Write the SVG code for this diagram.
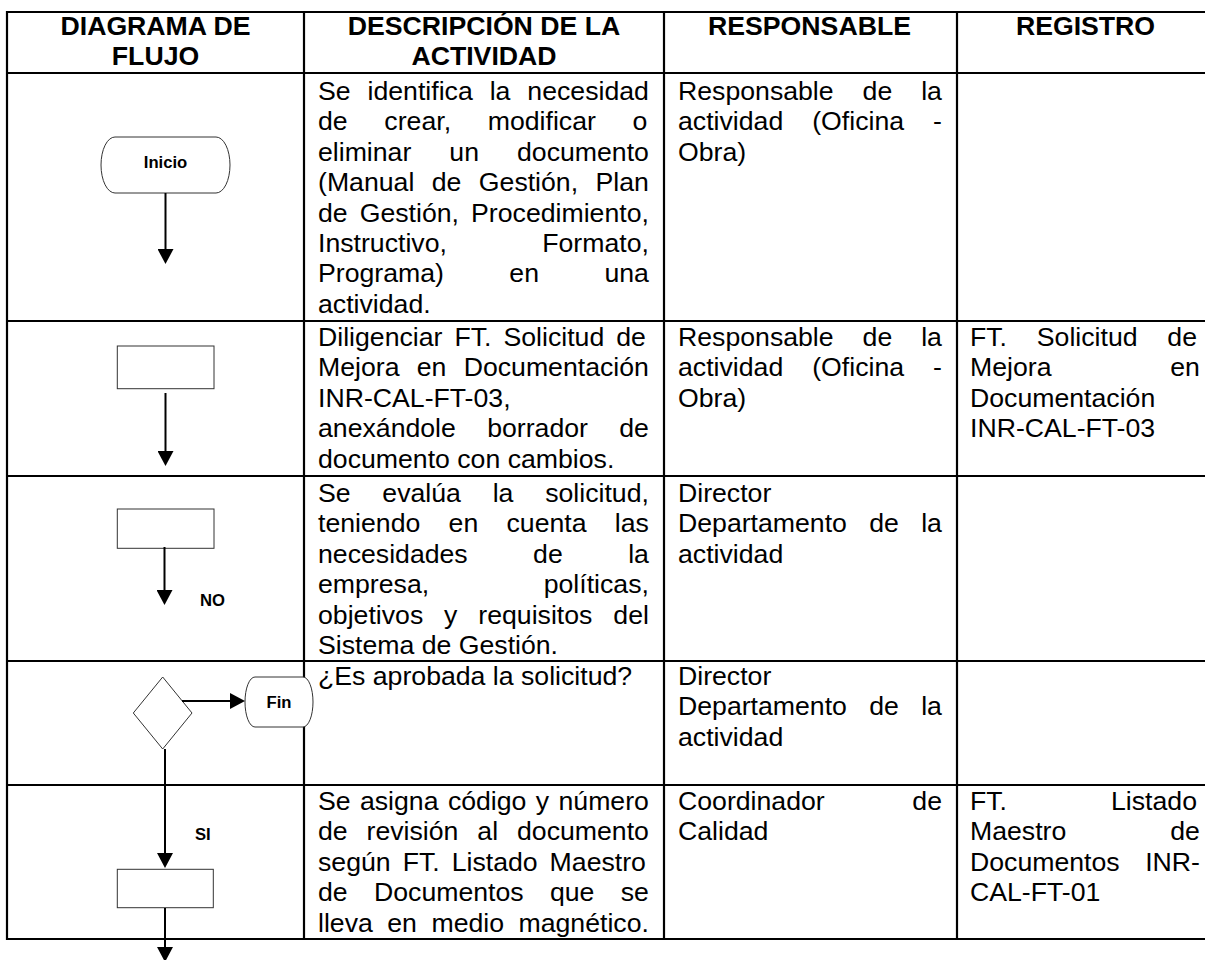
<svg xmlns="http://www.w3.org/2000/svg" width="1205" height="960" viewBox="0 0 1205 960">
<style>
text{font-family:"Liberation Sans",Arial,sans-serif;fill:#000}
.h{font-size:26.67px;font-weight:bold;text-anchor:middle}
.b{font-size:26.67px}
.s{font-size:16.67px;font-weight:bold}
.c{text-anchor:middle}
.grid line{stroke:#000;stroke-width:2.2}
.shape{fill:#fff;stroke:#333;stroke-width:1}
.conn path{stroke:#000;stroke-width:2;fill:none}
</style>
<defs>
<marker id="ah" viewBox="0 0 15 16" refX="0" refY="8" markerWidth="15" markerHeight="16" markerUnits="userSpaceOnUse" orient="auto"><path d="M0,0 L15,8 L0,16 Z" fill="#000"/></marker>
</defs>
<rect width="1205" height="960" fill="#fff"/>
<g id="table" class="grid">
<line x1="7" y1="12" x2="1205" y2="12"/>
<line x1="7" y1="73" x2="1205" y2="73"/>
<line x1="7" y1="321" x2="1205" y2="321"/>
<line x1="7" y1="476" x2="1205" y2="476"/>
<line x1="7" y1="661" x2="1205" y2="661"/>
<line x1="7" y1="785" x2="1205" y2="785"/>
<line x1="7" y1="939" x2="1205" y2="939"/>
<line x1="7" y1="11" x2="7" y2="940"/>
<line x1="304" y1="11" x2="304" y2="940"/>
<line x1="664" y1="11" x2="664" y2="940"/>
<line x1="957" y1="11" x2="957" y2="940"/>
</g>
<g id="headers">
<text class="h" x="155.5" y="35">DIAGRAMA DE</text>
<text class="h" x="155.5" y="65">FLUJO</text>
<text class="h" x="484" y="35">DESCRIPCIÓN DE LA</text>
<text class="h" x="484" y="65">ACTIVIDAD</text>
<text class="h" x="809.5" y="35">RESPONSABLE</text>
<text class="h" x="1085.5" y="35">REGISTRO</text>
</g>
<g id="descripcion" class="b">
<text class="b" x="318" y="100" style="word-spacing:9.53px">Se identifica la necesidad</text>
<text class="b" x="318" y="130.4" style="word-spacing:29.31px">de crear, modificar o</text>
<text class="b" x="318" y="160.8" style="word-spacing:30.62px">eliminar un documento</text>
<text class="b" x="318" y="191.2" style="word-spacing:10.03px">(Manual de Gestión, Plan</text>
<text class="b" x="318" y="221.6" style="word-spacing:4.67px">de Gestión, Procedimiento,</text>
<text class="b" x="318" y="252" style="word-spacing:87.93px">Instructivo, Formato,</text>
<text class="b" x="318" y="282.4" style="word-spacing:58.03px">Programa) en una</text>
<text class="b" x="318" y="312.8">actividad.</text>
<text class="b" x="318" y="346" style="word-spacing:4.61px">Diligenciar FT. Solicitud de</text>
<text class="b" x="318" y="376.4" style="word-spacing:9.87px">Mejora en Documentación</text>
<text class="b" x="318" y="406.8">INR-CAL-FT-03,</text>
<text class="b" x="318" y="437.2" style="word-spacing:23.92px">anexándole borrador de</text>
<text class="b" x="318" y="467.6">documento con cambios.</text>
<text class="b" x="318" y="502" style="word-spacing:24.36px">Se evalúa la solicitud,</text>
<text class="b" x="318" y="532.4" style="word-spacing:20.88px">teniendo en cuenta las</text>
<text class="b" x="318" y="562.8" style="word-spacing:58.02px">necesidades de la</text>
<text class="b" x="318" y="593.2" style="word-spacing:107.19px">empresa, políticas,</text>
<text class="b" x="318" y="623.6" style="word-spacing:13.49px">objetivos y requisitos del</text>
<text class="b" x="318" y="654">Sistema de Gestión.</text>
<text class="b" x="318" y="685">¿Es aprobada la solicitud?</text>
<text class="b" x="318" y="810" style="word-spacing:1.96px">Se asigna código y número</text>
<text class="b" x="318" y="840.4" style="word-spacing:11.51px">de revisión al documento</text>
<text class="b" x="318" y="870.8" style="word-spacing:4.6px">según FT. Listado Maestro</text>
<text class="b" x="318" y="901.2" style="word-spacing:18.92px">de Documentos que se</text>
<text class="b" x="318" y="931.6" style="word-spacing:7.07px">lleva en medio magnético.</text>
</g>
<g id="responsable">
<text class="b" x="678" y="100" style="word-spacing:21.56px">Responsable de la</text>
<text class="b" x="678" y="130.4" style="word-spacing:21.59px">actividad (Oficina -</text>
<text class="b" x="678" y="160.8">Obra)</text>
<text class="b" x="678" y="346" style="word-spacing:21.56px">Responsable de la</text>
<text class="b" x="678" y="376.4" style="word-spacing:21.59px">actividad (Oficina -</text>
<text class="b" x="678" y="406.8">Obra)</text>
<text class="b" x="678" y="502">Director</text>
<text class="b" x="678" y="532.4" style="word-spacing:14.9px">Departamento de la</text>
<text class="b" x="678" y="562.8">actividad</text>
<text class="b" x="678" y="685">Director</text>
<text class="b" x="678" y="715.4" style="word-spacing:14.9px">Departamento de la</text>
<text class="b" x="678" y="745.8">actividad</text>
<text class="b" x="678" y="810" style="word-spacing:80.2px">Coordinador de</text>
<text class="b" x="678" y="840.4">Calidad</text>
</g>
<g id="registro">
<text class="b" x="970" y="346" style="word-spacing:22.36px">FT. Solicitud de</text>
<text class="b" x="970" y="376.4" style="word-spacing:111.4px">Mejora en</text>
<text class="b" x="970" y="406.8">Documentación</text>
<text class="b" x="970" y="437.2">INR-CAL-FT-03</text>
<text class="b" x="970" y="810" style="word-spacing:96.6px">FT. Listado</text>
<text class="b" x="970" y="840.4" style="word-spacing:96.6px">Maestro de</text>
<text class="b" x="970" y="870.8" style="word-spacing:18.08px">Documentos INR-</text>
<text class="b" x="970" y="901.2">CAL-FT-01</text>
</g>
<g id="inicio">
<path class="shape" d="M115,137 H216 A14 28 0 0 1 216,193 H115 A14 28 0 0 1 115,137 Z"/>
<text class="s c" x="165.5" y="168">Inicio</text>
</g>
<g id="paso1"><rect class="shape" x="117.3" y="346" width="96.7" height="42.7"/></g>
<g id="paso2"><rect class="shape" x="117.3" y="509" width="96.7" height="39.3"/></g>
<g id="decision"><path class="shape" d="M162.7,677 L192,713 L162.7,749 L133.3,713 Z"/></g>
<g id="fin">
<path class="shape" d="M255,677 H303 A10 25 0 0 1 303,727 H255 A10 25 0 0 1 255,677 Z"/>
<text class="s c" x="279" y="708">Fin</text>
</g>
<g id="paso4"><rect class="shape" x="117.3" y="869.3" width="96" height="38.4"/></g>
<g id="connectors" class="conn">
<path d="M165.5,193 V249" marker-end="url(#ah)"/>
<path d="M165.5,393 V451" marker-end="url(#ah)"/>
<path d="M164.5,547 V590" marker-end="url(#ah)"/>
<path d="M182,701 H230" marker-end="url(#ah)"/>
<path d="M165,749 V853" marker-end="url(#ah)"/>
<path d="M165,908 V947" marker-end="url(#ah)"/>
<text class="s" x="200" y="606">NO</text>
<text class="s" x="195" y="840">SI</text>
</g>
</svg>
